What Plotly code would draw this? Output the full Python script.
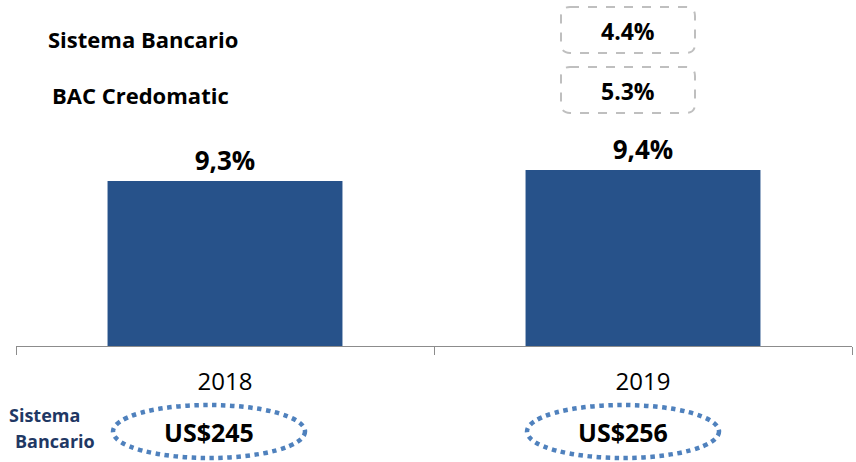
import plotly.graph_objects as go

years = ["2018", "2019"]
bac_share = [9.3, 9.4]
bar_labels = ["9,3%", "9,4%"]
growth_labels = ["Sistema Bancario", "BAC Credomatic"]
growth_values = ["4.4%", "5.3%"]
system_totals = ["US$245", "US$256"]

W, H = 856, 462
ML, MR, MT, MB = 16, 4, 10, 116
PW, PH = W - ML - MR, H - MT - MB
FONT = "Open Sans"


def px(x):
    return (x - ML) / PW


def py(y):
    return (H - MB - y) / PH


fig = go.Figure()
fig.add_trace(go.Bar(
    x=years, y=bac_share, width=0.562,
    marker=dict(color="#27528a", line=dict(width=0)),
    text=bar_labels, textposition="outside", cliponaxis=False,
    textfont=dict(family=FONT, size=26, color="#000000"),
    texttemplate="<b>%{text}</b>",
))

shapes = []
annotations = []


def note(x, y, text, size, color="#000"):
    annotations.append(dict(x=px(x), y=py(y), xref="paper", yref="paper",
                            xanchor="center", yanchor="middle",
                            text=text, showarrow=False,
                            font=dict(family=FONT, size=size, color=color)))


def rounded_box(x0, y0, x1, y1, r=9):
    X0, X1 = px(x0), px(x1)
    Y0, Y1 = py(y0), py(y1)
    rx, ry = r / PW, r / PH
    path = (f"M {X0+rx},{Y0} L {X1-rx},{Y0} Q {X1},{Y0} {X1},{Y0-ry} "
            f"L {X1},{Y1+ry} Q {X1},{Y1} {X1-rx},{Y1} L {X0+rx},{Y1} "
            f"Q {X0},{Y1} {X0},{Y1+ry} L {X0},{Y0-ry} Q {X0},{Y0} {X0+rx},{Y0} Z")
    return dict(type="path", xref="paper", yref="paper", path=path,
                line=dict(color="#bfbfbf", width=2, dash="dash"))


box_rows = [(7, 53, 31, 39), (67, 113, 91, 95)]
for (y0, y1, yc, ylab), lab, val, lx in zip(box_rows, growth_labels, growth_values, [143, 140]):
    shapes.append(rounded_box(561, y0, 695, y1))
    note(628, yc, f"<b>{val}</b>", 23)
    note(lx, ylab, f"<b>{lab}</b>", 22)

for cx, total in zip([209, 623], system_totals):
    shapes.append(dict(type="circle", xref="paper", yref="paper",
                       x0=px(cx - 96), x1=px(cx + 96), y0=py(405), y1=py(458),
                       line=dict(color="#4f81bd", width=4.5, dash="dot")))
    note(cx, 432, f"<b>{total}</b>", 25)

note(44, 415, "<b>Sistema</b>", 18, "#1f3864")
note(55, 441, "<b>Bancario</b>", 18, "#1f3864")

fig.update_layout(
    width=W, height=H,
    margin=dict(l=ML, r=MR, t=MT, b=MB),
    paper_bgcolor="white", plot_bgcolor="white",
    showlegend=False,
    shapes=shapes, annotations=annotations,
    xaxis=dict(showline=True, linecolor="#8c8c8c", linewidth=1,
               ticks="outside", tickson="boundaries", ticklen=8,
               tickcolor="#8c8c8c", showgrid=False, ticklabelstandoff=14,
               tickfont=dict(family=FONT, size=24, color="#000")),
    yaxis=dict(range=[7.8, 7.8 + PH / 110], visible=False),
)

fig.write_html("out.html", config={"displayModeBar": False},
               post_script="document.body.style.margin='0';")
